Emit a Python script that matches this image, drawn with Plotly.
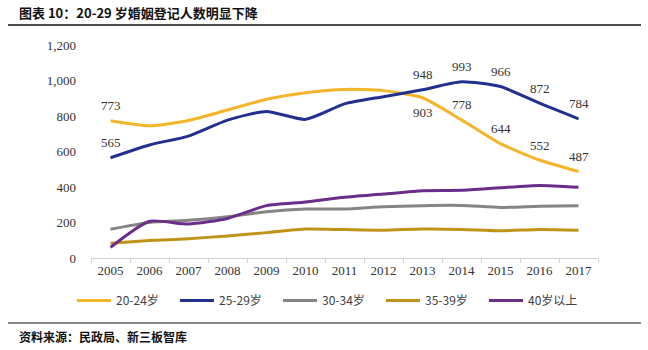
import plotly.graph_objects as go

years = list(range(2005, 2018))
s20_24 = [773, 745, 775, 834, 894, 931, 950, 943, 903, 778, 644, 552, 487]
s25_29 = [565, 637, 687, 777, 826, 781, 868, 909, 948, 993, 966, 872, 784]
s30_34 = [162, 200, 212, 232, 261, 276, 276, 289, 295, 296, 285, 292, 295]
s35_39 = [83, 98, 109, 124, 143, 163, 160, 157, 163, 161, 153, 161, 157]
s40p = [60, 207, 191, 223, 295, 315, 342, 360, 379, 381, 396, 409, 398]

names = ["20-24岁", "25-29岁", "30-34岁", "35-39岁", "40岁以上"]
colors = ["#F5B52A", "#22308F", "#858585", "#C09318", "#6B2D8A"]

# labelled points: index -> +1 above / -1 below
lab20 = {0: 1, 8: -1, 9: 1, 10: 1, 11: 1, 12: 1}
lab25 = {0: 1, 8: 1, 9: 1, 10: 1, 11: 1, 12: 1}

W, H = 648, 350
L, R, T, B = 91, 50, 45, 92
pw, ph = W - L - R, H - T - B

def px(x):
    return (x - L) / pw

def py(y):
    return (H - B - y) / ph

serif = "Liberation Serif, Times New Roman, serif"
fig = go.Figure()
series = [s20_24, s25_29, s30_34, s35_39, s40p]
labels = [lab20, lab25, {}, {}, {}]
for name, vals, col, lab in zip(names, series, colors, labels):
    fig.add_trace(go.Scatter(
        x=years, y=vals, name=name, mode="lines",
        line=dict(color=col, width=3, shape="spline", smoothing=0.6),
    ))
    for i, d in lab.items():
        fig.add_annotation(x=years[i], y=vals[i], text=str(vals[i]), showarrow=False,
                           yshift=15 * d, xanchor="center", yanchor="middle",
                           font=dict(family=serif, size=13, color="#333333"))

fig.update_layout(
    width=W, height=H,
    margin=dict(l=L, r=R, t=T, b=B),
    paper_bgcolor="white", plot_bgcolor="white",
    showlegend=True,
    legend=dict(orientation="h", x=px(72), y=py(286), xanchor="left", yanchor="top",
                font=dict(family="Noto Sans CJK SC", size=12, color="#404040"),
                itemwidth=34, entrywidth=54, entrywidthmode="pixels",
                traceorder="normal", tracegroupgap=0,
                bgcolor="rgba(0,0,0,0)"),
    xaxis=dict(range=[2004.5, 2017.5], tickvals=years, ticktext=[str(y) for y in years],
               showgrid=False, showline=True, linecolor="#D0D0D0", linewidth=1, zeroline=False,
               ticks="",
               minor=dict(ticks="outside", tick0=2004.5, dtick=1, ticklen=4, tickcolor="#D0D0D0",
                          showgrid=False),
               tickfont=dict(family=serif, size=13, color="#333333")),
    yaxis=dict(range=[0, 1200], dtick=200, tickformat=",", showgrid=False, showline=False,
               zeroline=False, ticks="", ticklabelstandoff=14,
               tickfont=dict(family=serif, size=13, color="#333333")),
    font=dict(family="Noto Sans CJK SC"),
)

fig.add_annotation(text="<b>图表 10：20-29 岁婚姻登记人数明显下降</b>", xref="paper", yref="paper",
                   x=px(17), y=py(12), xanchor="left", yanchor="middle", showarrow=False,
                   font=dict(family="Noto Sans CJK SC", size=13, color="#111111"))
fig.add_annotation(text="<b>资料来源：民政局、新三板智库</b>", xref="paper", yref="paper",
                   x=px(17), y=py(336), xanchor="left", yanchor="middle", showarrow=False,
                   font=dict(family="Noto Sans CJK SC", size=12, color="#111111"))
fig.add_shape(type="line", xref="paper", yref="paper", x0=px(8), x1=px(641), y0=py(25), y1=py(25),
              line=dict(color="#111111", width=1.5))
fig.add_shape(type="line", xref="paper", yref="paper", x0=px(8), x1=px(641), y0=py(323), y1=py(323),
              line=dict(color="#111111", width=1.2))

fig.write_html("out.html")
